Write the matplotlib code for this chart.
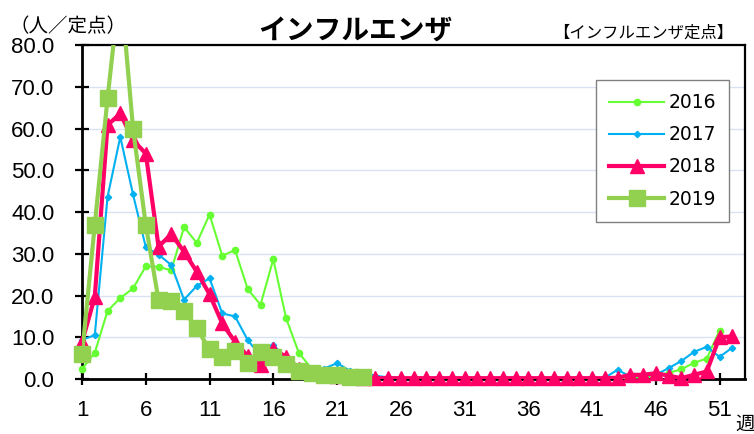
import numpy as np
import matplotlib
matplotlib.use("Agg")
import matplotlib.pyplot as plt
from matplotlib.lines import Line2D

plt.rcParams['font.family'] = ['Liberation Sans', 'Noto Sans CJK JP']

# weekly values (per sentinel)
y2016 = [2.4, 6.3, 16.3, 19.4, 21.7, 27.0, 26.9, 26.0, 36.4, 32.6,
         39.4, 29.5, 30.9, 21.5, 17.8, 28.7, 14.6, 6.3, 2.5, 1.5,
         1.2, 1.0, 0.8, 0.5, 0.3, 0.2, 0.1, 0.1, 0.1, 0.1,
         0.1, 0.1, 0.1, 0.1, 0.1, 0.1, 0.1, 0.1, 0.1, 0.1,
         0.1, 0.2, 0.2, 0.3, 0.4, 0.6, 1.5, 2.3, 3.9, 4.9, 11.6]
y2017 = [9.4, 10.5, 43.6, 58.0, 44.2, 31.6, 29.8, 27.3, 19.0, 22.3,
         24.1, 15.7, 15.0, 9.3, 5.5, 8.2, 5.0, 3.0, 2.5, 2.5,
         3.8, 2.0, 1.5, 0.8, 0.4, 0.3, 0.2, 0.2, 0.2, 0.2,
         0.2, 0.2, 0.2, 0.2, 0.2, 0.2, 0.2, 0.2, 0.2, 0.2,
         0.2, 0.3, 2.2, 0.6, 0.8, 1.0, 2.6, 4.3, 6.5, 7.7, 5.3, 7.5]
y2018 = [8.8, 19.7, 60.8, 63.6, 57.2, 54.0, 31.7, 34.7, 30.5, 25.7,
         20.3, 13.3, 8.9, 5.5, 3.4, 7.2, 5.3, 2.5, 1.5, 1.0,
         0.8, 0.5, 0.3, 0.2, 0.2, 0.2, 0.2, 0.2, 0.2, 0.2,
         0.2, 0.2, 0.2, 0.2, 0.2, 0.2, 0.2, 0.2, 0.2, 0.2,
         0.2, 0.2, 0.3, 1.0, 1.0, 1.4, 0.8, 0.2, 1.0, 1.8, 10.0, 10.2]
y2019 = [5.9, 36.9, 67.2, 95.0, 60.0, 36.9, 18.9, 18.7, 16.3, 12.1,
         7.1, 5.2, 6.6, 3.8, 6.4, 5.2, 3.5, 2.0, 1.5, 1.0,
         1.0, 0.6, 0.5]

xticks = [1, 6, 11, 16, 21, 26, 31, 36, 41, 46, 51]
yticks = [0, 10, 20, 30, 40, 50, 60, 70, 80]
ymax = 80

fig = plt.figure(figsize=(7.54, 4.34), dpi=100)
ax = fig.add_axes([0.1088, 0.1267, 0.8793, 0.7696])

styles = [
    ('2016', y2016, '#66FF33', 1.5, 'o', 4.5),
    ('2017', y2017, '#00B0F0', 1.5, 'D', 3.2),
    ('2018', y2018, '#FF0066', 3, '^', 10),
    ('2019', y2019, '#92D050', 3, 's', 12),
]

handles = []
for z, (name, vals, col, lw, mk, ms) in enumerate(styles):
    x = np.arange(1, len(vals) + 1)
    v = np.array(vals)
    # line clipped to the plot area
    ax.plot(x, v, color=col, lw=lw, zorder=3 + z)
    # markers drawn in full, skipping points above the scale
    keep = v <= ymax
    ax.plot(x[keep], v[keep], ls='none', marker=mk, ms=ms, color=col,
            clip_on=False, zorder=3 + z)
    handles.append(Line2D([], [], color=col, lw=lw, marker=mk, ms=ms, label=name))

ax.set_xlim(1, 53)
ax.set_ylim(0, ymax)
ax.set_xticks(xticks)
ax.set_yticks(yticks)
ax.set_yticklabels(['%.1f' % v for v in yticks])
ax.yaxis.grid(True, color='#D9E2F3', lw=1)
ax.set_axisbelow(True)
ax.tick_params(axis='y', direction='inout', length=10, width=1.6, pad=15, labelsize=16)
ax.tick_params(axis='x', direction='inout', length=8, width=1.6, pad=11, labelsize=16)
for s in ['left', 'bottom']:
    ax.spines[s].set_linewidth(2)
for s in ['top', 'right']:
    ax.spines[s].set_linewidth(1.6)

leg = ax.legend(handles=handles, loc='upper right', bbox_to_anchor=(0.976, 0.895),
                borderaxespad=0, prop={'family': 'DejaVu Sans', 'size': 13.5},
                handlelength=2.9, handletextpad=0.25, labelspacing=0.7,
                borderpad=0.7, numpoints=1, fancybox=False, framealpha=1,
                edgecolor='#808080')
leg.get_frame().set_linewidth(1)

fig.text(0.472, 0.93, 'インフルエンザ', ha='center', va='center', fontsize=20,
         fontweight='bold', family=['Noto Sans CJK JP'])
fig.text(0.013, 0.938, '（人／定点）', ha='left', va='center', fontsize=14,
         family=['Noto Sans CJK JP'])
fig.text(0.972, 0.924, '【インフルエンザ定点】', ha='right', va='center', fontsize=11.8,
         family=['Noto Sans CJK JP'])
fig.text(0.988, 0.022, '週', ha='center', va='center', fontsize=14,
         family=['Noto Sans CJK JP'])

fig.savefig('out.png', dpi=100)
